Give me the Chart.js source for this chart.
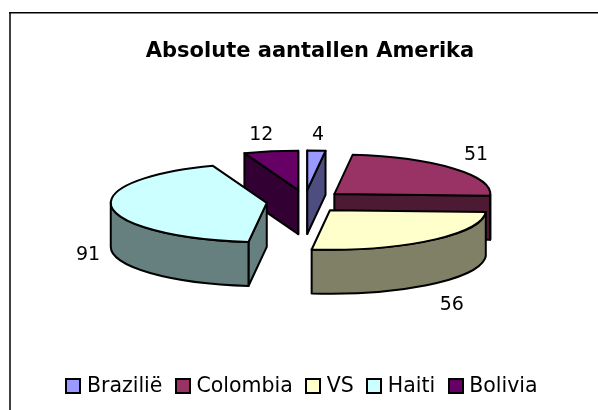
<!DOCTYPE html>
<html>
<head>
<meta charset="utf-8">
<title>Absolute aantallen Amerika</title>
<script src="https://cdn.jsdelivr.net/npm/chart.js@4"></script>
<style>
  html, body { margin: 0; padding: 0; background: #fff; }
  canvas { display: block; }
</style>
</head>
<body>
<canvas id="pie-chart" width="598" height="410"></canvas>
<script>
const categories = ['Brazilië', 'Colombia', 'VS', 'Haiti', 'Bolivia'];
const values = [4, 51, 56, 91, 12];
const topColors = ['#9999FF', '#993366', '#FFFFCC', '#CCFFFF', '#660066'];
const sideColors = ['#4D4D80', '#4D1A33', '#808066', '#668080', '#330033'];
// back to front, so the nearer slices cover the ones behind them
const paintOrder = [0, 4, 1, 3, 2];
// hand placement of the value labels, like the original has
const labelNudges = [[0, 4], [3, 0], [4, 5], [2, 1], [-5, 3]];

const FONT = '"DejaVu Sans", Verdana, sans-serif';
const TILT = 0.253;
const DEPTH = 44;
const EXPLODE_X = 38.5;
const EXPLODE_Y = 11.5;
const SHIFT_X = -5; // title is centred further right than the pie

function sliceGeometry(arc) {
  const mid = (arc.startAngle + arc.endAngle) / 2;
  return {
    x: arc.x + SHIFT_X + Math.cos(mid) * EXPLODE_X,
    y: arc.y + Math.sin(mid) * EXPLODE_Y,
    r: arc.outerRadius,
    start: arc.startAngle,
    end: arc.endAngle,
    mid
  };
}

function fillAndStroke(ctx, color) {
  ctx.fillStyle = color;
  ctx.fill();
  ctx.stroke();
}

function radialFace(ctx, s, angle, color) {
  const rimX = s.x + Math.cos(angle) * s.r;
  const rimY = s.y + Math.sin(angle) * s.r * TILT;
  ctx.beginPath();
  ctx.moveTo(s.x, s.y);
  ctx.lineTo(rimX, rimY);
  ctx.lineTo(rimX, rimY + DEPTH);
  ctx.lineTo(s.x, s.y + DEPTH);
  ctx.closePath();
  fillAndStroke(ctx, color);
}

const pie3dPlugin = {
  id: 'pie3d',
  // the flat arcs are replaced by the extruded ones below
  beforeDatasetDraw: () => false,
  afterDatasetsDraw(chart) {
    const { ctx } = chart;
    const arcs = chart.getDatasetMeta(0).data;
    ctx.save();
    ctx.strokeStyle = '#000';
    ctx.lineWidth = 2;
    ctx.lineJoin = 'round';

    paintOrder.forEach((i) => {
      const s = sliceGeometry(arcs[i]);
      const ry = s.r * TILT;

      if (-Math.cos(s.start) > -0.01) radialFace(ctx, s, s.start, sideColors[i]);
      if (Math.cos(s.end) > -0.01) radialFace(ctx, s, s.end, sideColors[i]);

      // outer wall, only the part of the rim that faces the viewer
      const a0 = Math.max(s.start, 0);
      const a1 = Math.min(s.end, Math.PI);
      if (a1 > a0) {
        ctx.beginPath();
        ctx.ellipse(s.x, s.y, s.r, ry, 0, a0, a1);
        ctx.ellipse(s.x, s.y + DEPTH, s.r, ry, 0, a1, a0, true);
        ctx.closePath();
        fillAndStroke(ctx, sideColors[i]);
      }

      ctx.beginPath();
      ctx.moveTo(s.x, s.y);
      ctx.ellipse(s.x, s.y, s.r, ry, 0, s.start, s.end);
      ctx.closePath();
      fillAndStroke(ctx, topColors[i]);
    });

    // value labels
    ctx.fillStyle = '#000';
    ctx.font = '19px ' + FONT;
    ctx.textAlign = 'center';
    ctx.textBaseline = 'middle';
    arcs.forEach((arc, i) => {
      const s = sliceGeometry(arc);
      const lx = s.x + Math.cos(s.mid) * (s.r + 26);
      const drop = Math.sin(s.mid) > 0 ? DEPTH : 0;
      const ly = s.y + Math.sin(s.mid) * (s.r * TILT + 20) + drop;
      ctx.fillText(String(values[i]), lx + labelNudges[i][0], ly + labelNudges[i][1]);
    });
    ctx.restore();
  },
  afterDraw(chart) {
    const { ctx } = chart;
    const data = chart.data;
    ctx.save();

    // chart frame, only the top and left edges are in the picture
    ctx.fillStyle = '#404040';
    ctx.fillRect(9, 12, 2, 398);
    ctx.fillStyle = '#000';
    ctx.fillRect(9, 12, 589, 1.5);

    // legend row
    ctx.font = '20.5px ' + FONT;
    ctx.textBaseline = 'middle';
    ctx.textAlign = 'left';
    const boxSize = 14;
    const textGap = 6.5;
    const itemGap = 13.5;
    const widths = data.labels.map((l) => ctx.measureText(l).width);
    const total = widths.reduce((a, w) => a + w + boxSize + textGap, 0) + itemGap * (widths.length - 1);
    let x = 302 - total / 2;
    const y = 386;
    data.labels.forEach((label, i) => {
      ctx.beginPath();
      ctx.rect(Math.round(x), y - boxSize / 2, boxSize, boxSize);
      ctx.fillStyle = topColors[i];
      ctx.fill();
      ctx.lineWidth = 2;
      ctx.strokeStyle = '#000';
      ctx.stroke();
      ctx.fillStyle = '#000';
      ctx.fillText(label, x + boxSize + textGap, y + 1);
      x += boxSize + textGap + widths[i] + itemGap;
    });
    ctx.restore();
  }
};

new Chart(document.getElementById('pie-chart').getContext('2d'), {
  type: 'pie',
  data: {
    labels: categories,
    datasets: [{
      data: values,
      backgroundColor: topColors,
      borderColor: '#000',
      radius: 156
    }]
  },
  options: {
    responsive: false,
    animation: false,
    layout: { padding: { left: 22, right: 0, top: 0, bottom: 77.6 } },
    plugins: {
      legend: { display: false },
      tooltip: { enabled: false },
      title: {
        display: true,
        text: 'Absolute aantallen Amerika',
        color: '#000',
        font: { family: FONT, size: 21, weight: 'bold' },
        padding: { top: 39.4, bottom: 6 }
      }
    }
  },
  plugins: [pie3dPlugin]
});
</script>
</body>
</html>
